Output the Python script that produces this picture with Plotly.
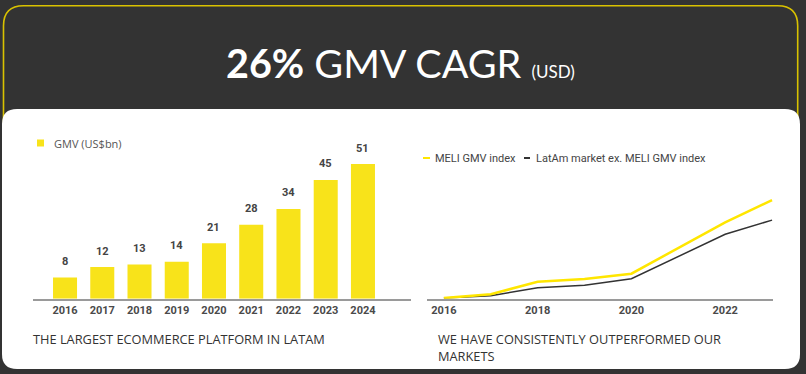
import plotly.graph_objects as go

# ---------------- data ----------------
years_bar = ["2016", "2017", "2018", "2019", "2020", "2021", "2022", "2023", "2024"]
gmv_usd_bn = [8, 12, 13, 14, 21, 28, 34, 45, 51]

years_line = [2016, 2017, 2018, 2019, 2020, 2021, 2022, 2023]
meli_gmv_index = [100, 119, 182, 196, 222, 350, 479, 590]
latam_ex_meli_index = [100, 112, 152, 164, 197, 307, 419, 490]
line_ticks = [2016, 2018, 2020, 2022]

title_bold = "26%"
title_main = "GMV CAGR"
title_small = "(USD)"
bar_legend = "GMV (US$bn)"
line_names = ["MELI GMV index", "LatAm market ex. MELI GMV index"]
caption_left = "THE LARGEST ECOMMERCE PLATFORM IN LATAM"
caption_right = "WE HAVE CONSISTENTLY OUTPERFORMED OUR<br>MARKETS"

# ---------------- styling ----------------
W, H = 806, 374
BG = "#333333"
BAR_YELLOW = "#F8E31A"
LINE_YELLOW = "#FFE600"
LINE_DARK = "#333333"
AXIS_GRAY = "#9a9a9a"
TICK_COLOR = "#4a4a4a"


def px(x):
    return x / W


def py(y):
    return 1 - y / H


def path_pts(cmds):
    out = []
    for c in cmds:
        op = c[0]
        pts = c[1:]
        coords = []
        for i in range(0, len(pts), 2):
            coords.append(f"{px(pts[i]):.5f},{py(pts[i+1]):.5f}")
        out.append(op + " " + " ".join(coords))
    return " ".join(out)


def rrect(x0, y0, x1, y1, r):
    return path_pts([
        ("M", x0 + r, y0),
        ("L", x1 - r, y0),
        ("Q", x1, y0, x1, y0 + r),
        ("L", x1, y1 - r),
        ("Q", x1, y1, x1 - r, y1),
        ("L", x0 + r, y1),
        ("Q", x0, y1, x0, y1 - r),
        ("L", x0, y0 + r),
        ("Q", x0, y0, x0 + r, y0),
    ]) + " Z"


def open_border(x0, y0, x1, ybot, r):
    return path_pts([
        ("M", x0, ybot),
        ("L", x0, y0 + r),
        ("Q", x0, y0, x0 + r, y0),
        ("L", x1 - r, y0),
        ("Q", x1, y0, x1, y0 + r),
        ("L", x1, ybot),
    ])


fig = go.Figure()

# bars
fig.add_trace(go.Bar(
    x=years_bar, y=gmv_usd_bn, marker=dict(color=BAR_YELLOW, line=dict(width=0)),
    width=0.645, xaxis="x", yaxis="y", showlegend=False, hoverinfo="skip",
))

# lines
fig.add_trace(go.Scatter(
    x=years_line, y=latam_ex_meli_index, mode="lines", name=line_names[1],
    line=dict(color=LINE_DARK, width=1.5), xaxis="x2", yaxis="y2", showlegend=False,
))
fig.add_trace(go.Scatter(
    x=years_line, y=meli_gmv_index, mode="lines", name=line_names[0],
    line=dict(color=LINE_YELLOW, width=2.5), xaxis="x2", yaxis="y2", showlegend=False,
))

y_dom = [py(298.7), py(130)]

annotations = []
# value labels (x given as category index)
for i, v in enumerate(gmv_usd_bn):
    annotations.append(dict(
        x=i, y=v, xref="x", yref="y", text=f"<b>{v}</b>", showarrow=False,
        yshift=16, yanchor="middle", font=dict(family="Roboto", size=11, color="#444444"),
    ))

# title
annotations.append(dict(
    x=px(400), y=py(62), xref="paper", yref="paper", showarrow=False,
    xanchor="center", yanchor="middle",
    text=f"<b>{title_bold}</b> {title_main} <span style='font-size:17px'>{title_small}</span>",
    font=dict(family="Lato", size=39.5, color="white"),
))

# legends
annotations.append(dict(
    x=px(52), y=py(143), xref="paper", yref="paper", showarrow=False,
    xanchor="left", yanchor="middle", text=bar_legend,
    font=dict(family="Open Sans", size=11, color="#555555"),
))
annotations.append(dict(
    x=px(433), y=py(158), xref="paper", yref="paper", showarrow=False,
    xanchor="left", yanchor="middle", text=line_names[0],
    font=dict(family="Roboto", size=11, color="#444444"),
))
annotations.append(dict(
    x=px(534), y=py(158), xref="paper", yref="paper", showarrow=False,
    xanchor="left", yanchor="middle", text=line_names[1],
    font=dict(family="Roboto", size=11, color="#444444"),
))

# captions
annotations.append(dict(
    x=px(31), y=py(339), xref="paper", yref="paper", showarrow=False,
    xanchor="left", yanchor="middle", text=caption_left,
    font=dict(family="Open Sans", size=12.8, color="#333333"),
))
annotations.append(dict(
    x=px(436), y=py(328), xref="paper", yref="paper", showarrow=False,
    xanchor="left", yanchor="top", align="left", text=caption_right,
    font=dict(family="Open Sans", size=12.8, color="#333333"),
))

shapes = [
    dict(type="path", path=open_border(3.5, 5.7, 797.7, 250, 20), xref="paper", yref="paper",
         line=dict(color="#D9C200", width=1.6), layer="below"),
    dict(type="path", path=rrect(2, 109, 800, 369, 15), xref="paper", yref="paper",
         fillcolor="white", line=dict(width=0), layer="below"),
    # legend swatches
    dict(type="rect", x0=px(37), x1=px(44), y0=py(146.5), y1=py(139.5), xref="paper", yref="paper",
         fillcolor=BAR_YELLOW, line=dict(width=0)),
    dict(type="line", x0=px(423), x1=px(430), y0=py(158), y1=py(158), xref="paper", yref="paper",
         line=dict(color=LINE_YELLOW, width=2)),
    dict(type="line", x0=px(524), x1=px(530), y0=py(158), y1=py(158), xref="paper", yref="paper",
         line=dict(color=LINE_DARK, width=2)),
]

fig.update_layout(
    width=W, height=H,
    margin=dict(l=0, r=0, t=0, b=0),
    paper_bgcolor=BG, plot_bgcolor="rgba(0,0,0,0)",
    showlegend=False,
    xaxis=dict(domain=[px(33), px(411)], type="category", range=[-0.86, 9.29],
               showline=True, linecolor=AXIS_GRAY, linewidth=1.5, showgrid=False, zeroline=False,
               ticks="", tickfont=dict(family="Roboto", size=11, color=TICK_COLOR, weight="bold"),
               fixedrange=True),
    yaxis=dict(domain=y_dom, range=[0, 63.9], visible=False, fixedrange=True),
    xaxis2=dict(domain=[px(427), px(773)], range=[2015.64, 2023.02], anchor="y2",
                tickvals=line_ticks, ticktext=[str(t) for t in line_ticks],
                showline=True, linecolor=AXIS_GRAY, linewidth=1.5, showgrid=False, zeroline=False,
                ticks="", tickfont=dict(family="Roboto", size=11, color=TICK_COLOR, weight="bold"),
                fixedrange=True),
    yaxis2=dict(domain=y_dom, range=[97, 940.5], visible=False, anchor="x2", fixedrange=True),
    annotations=annotations,
    shapes=shapes,
)

fig.write_html(
    "out.html",
    config={"displayModeBar": False},
    post_script="document.body.style.margin='0';document.body.style.background='#333333';",
)
